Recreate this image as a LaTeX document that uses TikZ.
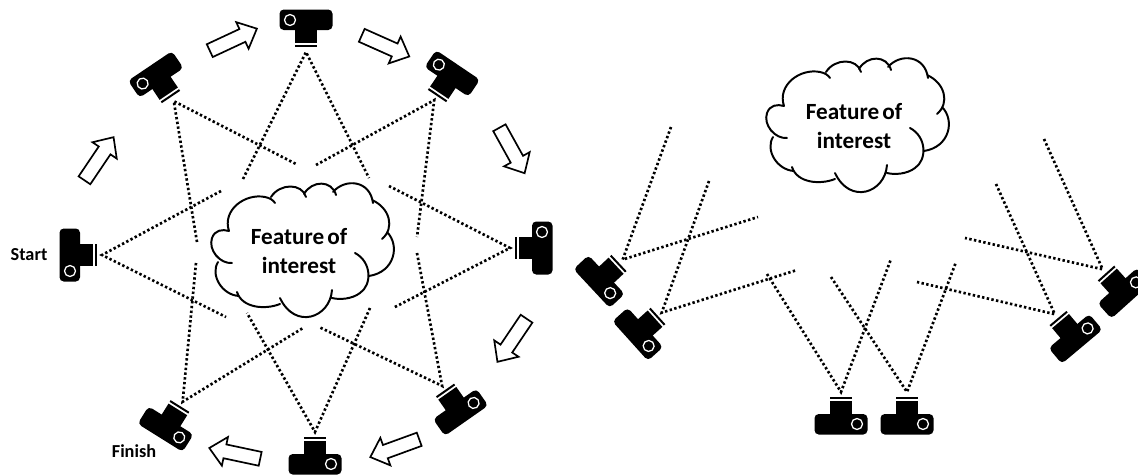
\documentclass[tikz,border=0pt]{standalone}
\usepackage{fontspec}
\setmainfont[WordSpace=0.6]{Carlito}
\usetikzlibrary{shapes.arrows}

\begin{document}
\begin{tikzpicture}[
  x=0.025cm, y=-0.025cm,
  sight/.style={line width=1.9pt, dash pattern=on 1.7pt off 1.7pt},
  flow/.style={single arrow, draw, fill=white, line width=1.2pt, anchor=tail, inner sep=0pt, text height=0.31cm, text width=0pt,
    minimum height=1.3cm, single arrow head extend=0.19cm, single arrow tip angle=85},
  tag/.style={font=\fontsize{13}{15}\selectfont\bfseries, anchor=center},
  camera/.pic={
    \fill[rounded corners=3pt] (-26.5,17) rectangle (26.5,37.5);
    \fill (-11,4) rectangle (11,18);
    \fill (-11,0) rectangle (11,2);
    \draw[white, line width=0.9pt] (16,27) circle (5.5);
    \coordinate (-apex) at (0,-5);
  },
  blob/.pic={
    \draw[line width=1.4pt, line cap=round]
      (29,51) .. controls (22,30) and (45,13) .. (65,17) .. controls (70,18) and (73,20) .. (75,23)
      (71,17) .. controls (80,3) and (102,3) .. (106,17)
      (104,14) .. controls (112,0) and (132,0) .. (136,15)
      (133,12) .. controls (145,-2) and (170,0) .. (173,23)
      (172,20) .. controls (190,28) and (195,48) .. (182,59)
      (187,52) .. controls (200,65) and (195,92) .. (169,96)
      (155,73) .. controls (172,82) and (172,105) .. (160,113) .. controls (152,119) and (140,120) .. (132,118)
      (132,110) .. controls (130,138) and (95,150) .. (80,118)
      (80,124) .. controls (65,130) and (42,128) .. (37,112)
      (39,116) .. controls (22,115) and (10,95) .. (18,82)
      (32,83) .. controls (20,84) and (8,70) .. (12,58) .. controls (15,50) and (22,49) .. (29,51);
    \node[font=\fontsize{16.5}{20.5}\selectfont\bfseries, align=center] (-label) at (99,71) {Feature of\\interest};
  }
]
  \useasboundingbox (0,0) rectangle (1138,474);

  % ring of cameras
  \pic (blobA) at (200,180) {blob};
  \pic[rotate=-90] (c1) at (97,255) {camera};
  \pic[rotate=-146] (c2) at (171,97) {camera};
  \pic[rotate=180] (c3) at (306,47) {camera};
  \pic[rotate=146] (c4) at (437,96) {camera};
  \pic[rotate=90] (c5) at (515,248) {camera};
  \pic[rotate=35] (c6) at (445,390) {camera};
  \pic (c7) at (315,437) {camera};
  \pic[rotate=-32] (c8) at (180,406) {camera};

  \node[tag] (start) at (29,255) {Start};
  \node[tag] (finish) at (134,451) {Finish};

  \node[flow, rotate=56] (a1) at (84,181) {};
  \node[flow, rotate=25] (a2) at (209,51) {};
  \node[flow, rotate=-24] (a3) at (361,35) {};
  \node[flow, rotate=-61] (a4) at (499,127) {};
  \node[flow, rotate=236] (a5) at (527,318) {};
  \node[flow, rotate=200] (a6) at (420,439) {};
  \node[flow, rotate=168] (a7) at (261,459) {};

  \coordinate (e1a) at (221,191);
  \coordinate (e1b) at (226,317);
  \coordinate (e2a) at (197,242);
  \coordinate (e2b) at (296,164);
  \coordinate (e3a) at (243,179);
  \coordinate (e3b) at (369,178);
  \coordinate (e4a) at (316,165);
  \coordinate (e4b) at (417,237);
  \coordinate (e5a) at (389,186);
  \coordinate (e5b) at (393,308);
  \coordinate (e6a) at (417,253);
  \coordinate (e6b) at (319,327);
  \coordinate (e7a) at (370,308);
  \coordinate (e7b) at (247,313);
  \coordinate (e8a) at (196,263);
  \coordinate (e8b) at (303,328);

  \draw[sight] (e1a) -- (c1-apex) -- (e1b);
  \draw[sight] (e2a) -- (c2-apex) -- (e2b);
  \draw[sight] (e3a) -- (c3-apex) -- (e3b);
  \draw[sight] (e4a) -- (c4-apex) -- (e4b);
  \draw[sight] (e5a) -- (c5-apex) -- (e5b);
  \draw[sight] (e6a) -- (c6-apex) -- (e6b);
  \draw[sight] (e7a) -- (c7-apex) -- (e7b);
  \draw[sight] (e8a) -- (c8-apex) -- (e8b);

  % second arrangement
  \pic (blobB) at (755,55) {blob};
  \pic[rotate=-47] (r1) at (619,263) {camera};
  \pic[rotate=-48] (r2) at (658,316) {camera};
  \pic (r3) at (841,397) {camera};
  \pic (r4) at (907,397) {camera};
  \pic[rotate=40] (r5) at (1058,318) {camera};
  \pic[rotate=42] (r6) at (1106,273) {camera};

  \coordinate (f1a) at (671,127);
  \coordinate (f1b) at (758,217);
  \coordinate (f2a) at (709,181);
  \coordinate (f2b) at (797,270);
  \coordinate (f3a) at (767,274);
  \coordinate (f3b) at (891,259);
  \coordinate (f4a) at (831,277);
  \coordinate (f4b) at (956,262);
  \coordinate (f5a) at (996,184);
  \coordinate (f5b) at (917,282);
  \coordinate (f6a) at (1044,139);
  \coordinate (f6b) at (965,238);

  \draw[sight] (f1a) -- (r1-apex) -- (f1b);
  \draw[sight] (f2a) -- (r2-apex) -- (f2b);
  \draw[sight] (f3a) -- (r3-apex) -- (f3b);
  \draw[sight] (f4a) -- (r4-apex) -- (f4b);
  \draw[sight] (f5a) -- (r5-apex) -- (f5b);
  \draw[sight] (f6a) -- (r6-apex) -- (f6b);
\end{tikzpicture}
\end{document}
